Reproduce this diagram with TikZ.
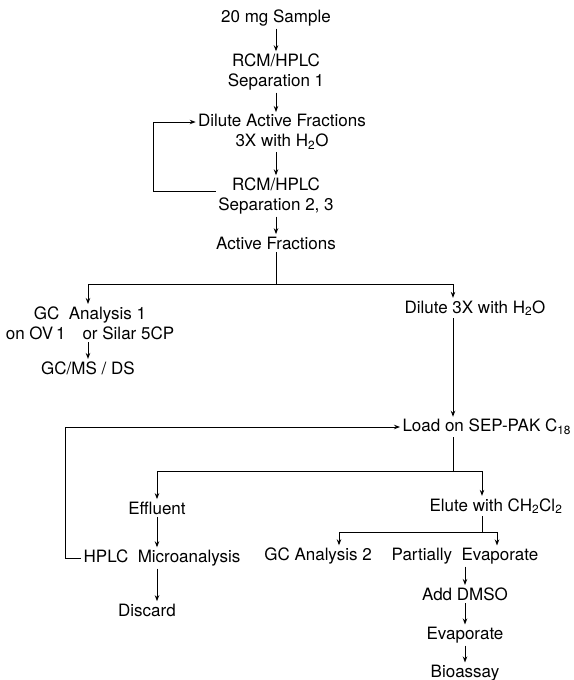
\documentclass[tikz,border=0pt]{standalone}
\usepackage{fontspec}
\setmainfont{TeX Gyre Heros}
\usetikzlibrary{arrows.meta}

\begin{document}
\begin{tikzpicture}[x=1pt, y=-1pt, >={Stealth[length=6pt,width=4.5pt]}, line width=1pt,
  txt/.style={align=center, inner sep=2pt, font=\fontsize{17}{20}\selectfont}]
	\useasboundingbox (0,0) rectangle (573,680);

	% Steps {sample, sep1, dil1, sep2, active, etc}
	\node [txt]              (sample)  at (276,18)  {20 mg Sample};
	\node [txt]              (sep1)    at (276,72)  {RCM/HPLC\\Separation 1};
	\node [txt]              (dil1)    at (282,132) {Dilute Active Fractions\\3X with H\textsubscript{2}O};
	\node [txt]              (sep2)    at (276,196) {RCM/HPLC\\Separation 2, 3};
	\node [txt]              (active)  at (276,243) {Active Fractions};
	\node [txt]              (gc1)     at (90,323)  {GC\ \ Analysis 1\\on OV\,1\quad or Silar 5CP};
	\node [txt]              (gcms)    at (88,368)  {GC/MS / DS};
	\node [txt]              (dil2)    at (475,308) {Dilute 3X with H\textsubscript{2}O};
	\node [txt, anchor=west] (load)    at (400,427) {Load on SEP-PAK C\textsubscript{18}};
	\node [txt]              (effl)    at (157,508) {Effluent};
	\node [txt]              (hplc)    at (162,558) {HPLC\ \ Microanalysis};
	\node [txt]              (discard) at (147,610) {Discard};
	\node [txt]              (elute)   at (496,506) {Elute with CH\textsubscript{2}Cl\textsubscript{2}};
	\node [txt]              (gc2)     at (318,556) {GC Analysis 2};
	\node [txt]              (pevap)   at (465,556) {Partially\ \ Evaporate};
	\node [txt]              (dmso)    at (465,594) {Add DMSO};
	\node [txt]              (evap)    at (465,635) {Evaporate};
	\node [txt]              (bio)     at (465,673) {Bioassay};

	% Branch points
	\coordinate (br1) at (276,284);
	\coordinate (br2) at (453,471);
	\coordinate (br3) at (482,532);

	% Paths
	\draw [->] (sample) -- (sep1);
	\draw [->] (sep1) -- (sep1 |- dil1.north);
	\draw [->] (sep1 |- dil1.south) -- (sep2);
	\draw [->] (sep2) -- (active);
	\draw [->] ([yshift=5pt]sep2.west) -- ++(-62,0) |- ([yshift=10pt]dil1.west);
	\draw      (active) -- (br1);
	\draw [->] (br1) -| (gc1.north -| gcms);
	\draw [->] (br1) -| ([xshift=-22pt]dil2.north);
	\draw [->] (gc1.south -| gcms) -- (gcms);
	\draw [->] ([xshift=-22pt]dil2.south) -- ([xshift=-22pt]dil2.south |- load.north);
	\draw [->] (hplc.west) -- ++(-16,0) |- (load.west);
	\draw      (load.south -| br2) -- (br2);
	\draw [->] (br2) -| (effl);
	\draw [->] (br2) -| ([xshift=-14pt]elute.north);
	\draw [->] (effl) -- (effl |- hplc.north);
	\draw [->] (hplc.south -| effl) -- (discard.north -| effl);
	\draw      ([xshift=-14pt]elute.south) -- (br3);
	\draw [->] (br3) -| ([xshift=21pt]gc2.north);
	\draw [->] (br3) -| ([xshift=32pt]pevap.north);
	\draw [->] (pevap) -- (dmso);
	\draw [->] (dmso) -- (evap);
	\draw [->] (evap) -- (bio);
\end{tikzpicture}
\end{document}
